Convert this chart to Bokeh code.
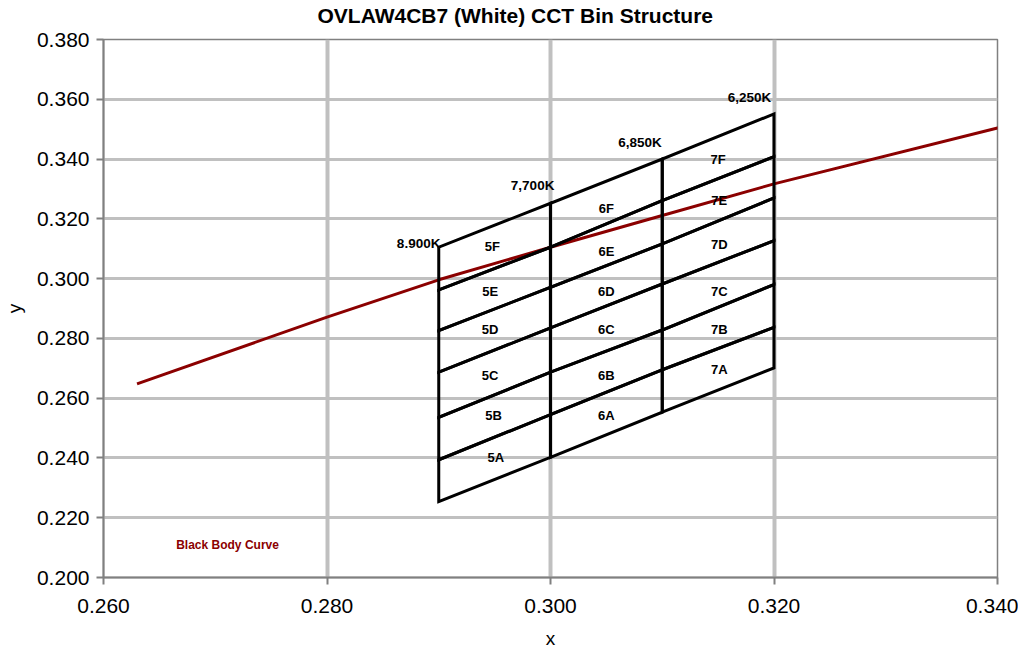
from bokeh.plotting import figure
from bokeh.models import Range1d, FixedTicker, NumeralTickFormatter, Title
from bokeh.embed import file_html
from bokeh.resources import INLINE
from bokeh.core.properties import value

chart_title = "OVLAW4CB7 (White) CCT Bin Structure"
x_ticks = [0.26, 0.28, 0.30, 0.32, 0.34]
y_ticks = [0.20, 0.22, 0.24, 0.26, 0.28, 0.30, 0.32, 0.34, 0.36, 0.38]

# Black body (Planckian) curve
bb_x = [0.2630, 0.2800, 0.2900, 0.3000, 0.3100, 0.3200, 0.3400, 0.3410]
bb_y = [0.2648, 0.2871, 0.2996, 0.3105, 0.3211, 0.3317, 0.3504, 0.3510]

# Bin boundaries: x edges and the y of each boundary line at those edges
bin_x = [0.290, 0.300, 0.310, 0.320]
bin_y_at_290 = [0.2254, 0.2394, 0.2536, 0.2687, 0.2826, 0.2962, 0.3105]
bin_y_at_300 = [0.2402, 0.2545, 0.2687, 0.2835, 0.2971, 0.3105, 0.3252]
bin_y_at_310 = [0.2553, 0.2695, 0.2828, 0.2982, 0.3116, 0.3261, 0.3400]
bin_y_at_320 = [0.2701, 0.2837, 0.2980, 0.3127, 0.3270, 0.3408, 0.3551]

# Bin labels
bin_names = ["5A", "5B", "5C", "5D", "5E", "5F",
             "6A", "6B", "6C", "6D", "6E", "6F",
             "7A", "7B", "7C", "7D", "7E", "7F"]
bin_label_x = [0.2951, 0.2949, 0.2946, 0.2946, 0.2946, 0.2948,
               0.3050, 0.3050, 0.3050, 0.3050, 0.3050, 0.3050,
               0.3151, 0.3151, 0.3151, 0.3151, 0.3151, 0.3150]
bin_label_y = [0.2402, 0.2542, 0.2676, 0.2831, 0.2957, 0.3108,
               0.2542, 0.2676, 0.2831, 0.2958, 0.3090, 0.3235,
               0.2696, 0.2831, 0.2958, 0.3114, 0.3261, 0.3397]

# CCT labels
cct_names = ["8.900K", "7,700K", "6,850K", "6,250K"]
cct_x = [0.2882, 0.2984, 0.3080, 0.3178]
cct_y = [0.3116, 0.3310, 0.3455, 0.3606]

curve_name = "Black Body Curve"
curve_label_x = 0.2711
curve_label_y = 0.2109

FONT = "Liberation Sans"
GRID = "#c0c0c0"
AXIS = "#808080"
RED = "#8b0000"

p = figure(output_backend="svg", toolbar_location=None,
           frame_width=894, frame_height=538,
           min_border_left=100, min_border_top=39, min_border_right=21, min_border_bottom=72,
           x_range=Range1d(0.26, 0.34), y_range=Range1d(0.20, 0.38),
           x_axis_label="x", y_axis_label="y")

# spacer (closest to the frame) then the title itself
spacer = Title(text=" ", text_font=FONT, text_font_size="10px", standoff=0)
main_title = Title(text=chart_title, text_font=FONT, text_font_size="21px",
                   text_font_style="bold", text_color="black", align="left",
                   offset=214, standoff=0)
p.add_layout(spacer, "above")
p.add_layout(main_title, "above")

p.xaxis.ticker = FixedTicker(ticks=x_ticks)
p.yaxis.ticker = FixedTicker(ticks=y_ticks)
for ax in (p.xaxis, p.yaxis):
    ax.formatter = NumeralTickFormatter(format="0.000")
    ax.axis_line_color = AXIS
    ax.axis_line_width = 2
    ax.major_tick_line_color = AXIS
    ax.major_tick_line_width = 2
    ax.major_tick_out = 7
    ax.major_tick_in = 0
    ax.minor_tick_line_color = None
    ax.major_label_text_font = FONT
    ax.major_label_text_font_size = "21px"
    ax.major_label_text_color = "black"
    ax.axis_label_text_font = FONT
    ax.axis_label_text_font_size = "19px"
    ax.axis_label_text_font_style = "normal"
    ax.axis_label_text_color = "black"
p.xaxis.major_label_standoff = 14
p.yaxis.major_label_standoff = 7
p.xaxis.axis_label_standoff = 12
p.yaxis.axis_label_standoff = 9

p.xgrid.grid_line_color = GRID
p.xgrid.grid_line_width = 4
p.ygrid.grid_line_color = GRID
p.ygrid.grid_line_width = 3
p.outline_line_color = AXIS
p.outline_line_width = 1.5

# black body curve
p.line(bb_x, bb_y, line_color=RED, line_width=3)

# bins
cols = [bin_y_at_290, bin_y_at_300, bin_y_at_310, bin_y_at_320]
xs, ys = [], []
for i in range(3):
    left, right = cols[i], cols[i + 1]
    for j in range(6):
        xs.append([bin_x[i], bin_x[i + 1], bin_x[i + 1], bin_x[i]])
        ys.append([left[j], right[j], right[j + 1], left[j + 1]])
p.patches(xs, ys, fill_color=None, line_color="black", line_width=3, line_join="miter")

p.text(bin_label_x, bin_label_y, text=bin_names, text_font=value(FONT),
       text_font_size="13px", text_font_style="bold", text_align="center",
       text_baseline="middle", text_color="black")
p.text(cct_x, cct_y, text=cct_names, text_font=value(FONT),
       text_font_size="13.5px", text_font_style="bold", text_align="center",
       text_baseline="middle", text_color="black")
p.text([curve_label_x], [curve_label_y], text=[curve_name], text_font=value(FONT),
       text_font_size="12px", text_font_style="bold", text_align="center",
       text_baseline="middle", text_color=RED)

open("out.html", "w").write(file_html(p, INLINE))
